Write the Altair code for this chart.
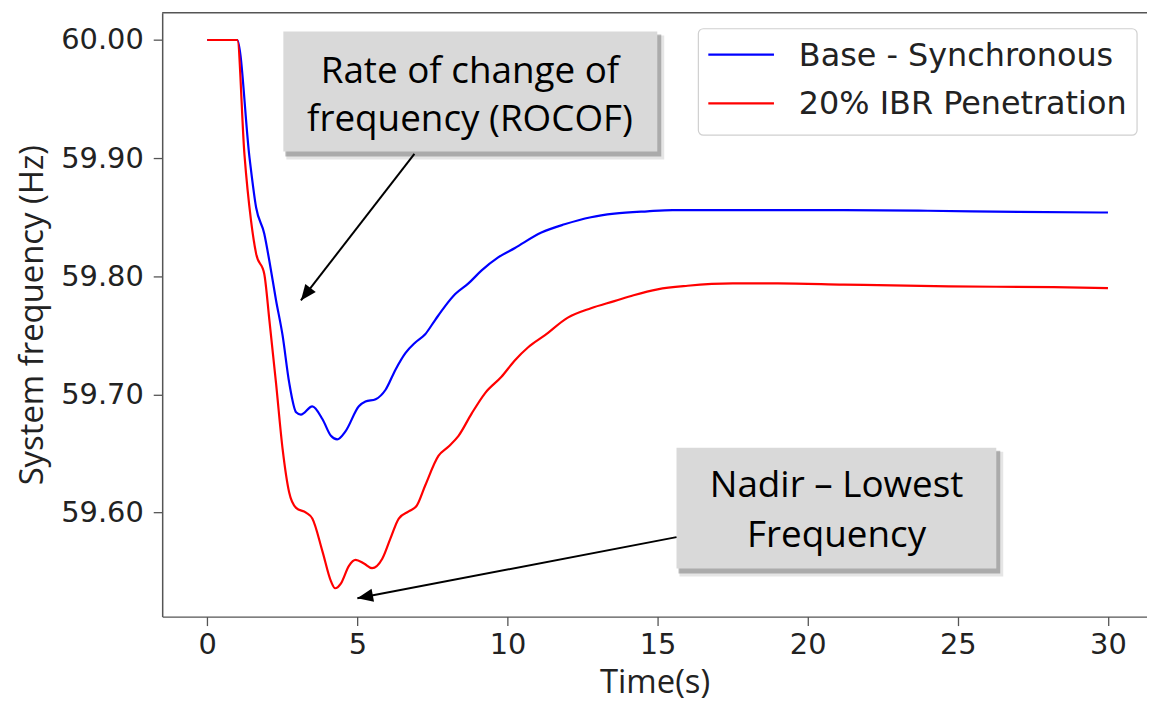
import altair as alt
import pandas as pd

# ---- data ----
series_names = ["Base - Synchronous", "20% IBR Penetration"]
series_colors = ["#0000ff", "#ff0000"]

t_base = [0, 1.0, 1.41, 1.63, 1.9, 2.07, 2.29, 2.51, 2.73, 2.96, 3.12, 3.5, 3.84, 4.12,
          4.33, 4.61, 5.05, 5.27, 5.61, 5.94, 6.27, 6.6, 6.93, 7.26, 7.59, 7.93, 8.26,
          8.7, 9.14, 9.69, 10.25, 11.13, 11.9, 12.78, 13.56, 14.66, 15.5, 17.7, 21.2,
          24.0, 27.0, 30.0]
f_base = [60.0, 60.0, 59.900, 59.858, 59.836, 59.813, 59.780, 59.750, 59.710, 59.685,
          59.683, 59.690, 59.679, 59.665, 59.662, 59.669, 59.690, 59.694, 59.696, 59.704,
          59.721, 59.735, 59.744, 59.751, 59.763, 59.775, 59.785, 59.794, 59.805, 59.816,
          59.824, 59.837, 59.844, 59.850, 59.853, 59.855, 59.856, 59.856, 59.856, 59.8555,
          59.8545, 59.854]

t_ibr = [0, 1.0, 1.24, 1.46, 1.63, 1.9, 2.07, 2.29, 2.51, 2.73, 2.96, 3.29, 3.5, 3.84,
         4.12, 4.26, 4.45, 4.72, 4.94, 5.22, 5.49, 5.83, 6.1, 6.38, 6.71, 6.98, 7.26,
         7.7, 8.04, 8.37, 8.81, 9.25, 9.8, 10.25, 10.69, 11.24, 12.01, 12.78, 13.56,
         14.2, 15.0, 16.0, 17.5, 19.0, 21.2, 24.7, 28.2, 30.0]
f_ibr = [60.0, 60.0, 59.903, 59.847, 59.819, 59.802, 59.763, 59.710, 59.654, 59.617,
         59.604, 59.600, 59.595, 59.567, 59.542, 59.536, 59.540, 59.555, 59.560, 59.557,
         59.553, 59.561, 59.578, 59.595, 59.601, 59.606, 59.623, 59.648, 59.656, 59.665,
         59.684, 59.701, 59.715, 59.729, 59.740, 59.750, 59.765, 59.773, 59.779, 59.784,
         59.789, 59.792, 59.794, 59.794, 59.793, 59.7915, 59.7908, 59.790]

x_ticks = [0, 5, 10, 15, 20, 25, 30]
y_ticks = [59.6, 59.7, 59.8, 59.9, 60.0]

df = pd.concat([
    pd.DataFrame({"t": t_base, "f": f_base, "series": series_names[0]}),
    pd.DataFrame({"t": t_ibr, "f": f_ibr, "series": series_names[1]}),
], ignore_index=True)

W, H = 990, 607
XDOM = [-1.5, 31.3]
YDOM = [59.512, 60.023]

xs = alt.Scale(domain=XDOM, nice=False, zero=False)
ys = alt.Scale(domain=YDOM, nice=False, zero=False)
cs = alt.Scale(domain=series_names, range=series_colors)

lines = alt.Chart(df).mark_line(strokeWidth=2.2, interpolate="monotone").encode(
    x=alt.X("t:Q", scale=xs,
            axis=alt.Axis(values=x_ticks, title="Time(s)", titleY=76, titleBaseline="alphabetic",
                          labelPadding=5)),
    y=alt.Y("f:Q", scale=ys,
            axis=alt.Axis(values=y_ticks, format=".2f", title="System frequency (Hz)",
                          titleX=-130, titleBaseline="middle", titleAlign="center",
                          labelPadding=10)),
    color=alt.Color("series:N", scale=cs, legend=None),
)

# ---- legend (drawn in the upper right of the plot area) ----
leg_df = pd.DataFrame({"series": series_names})
legend_box = alt.Chart(pd.DataFrame({"a": [0]})).mark_rect(
    fill="white", fillOpacity=0.85, stroke="#d0d0d0", strokeWidth=1.2, cornerRadius=5).encode(
    x=alt.value(539), x2=alt.value(980), y=alt.value(16), y2=alt.value(123))
legend_layers = [legend_box]
for i, name in enumerate(series_names):
    ypix = 42 + 49 * i
    row = alt.Chart(leg_df[leg_df.series == name])
    legend_layers.append(row.mark_rule(strokeWidth=2.2).encode(
        x=alt.value(549), x2=alt.value(615), y=alt.value(ypix),
        color=alt.Color("series:N", scale=cs, legend=None)))
    legend_layers.append(row.mark_text(align="left", baseline="middle", font="DejaVu Sans",
                                       fontSize=32, color="#222222").encode(
        x=alt.value(640), y=alt.value(ypix + 1), text="series:N"))

# ---- annotations (data coordinates) ----
boxes = pd.DataFrame({
    "x": [2.535, 15.63], "x2": [14.99, 26.28],
    "y": [60.0071, 59.655], "y2": [59.9056, 59.5527],
})
texts = pd.DataFrame({
    "x": [8.75, 8.75, 20.96, 20.96],
    "y": [59.9636, 59.9233, 59.6132, 59.5712],
    "label": ["Rate of change of", "frequency (ROCOF)", "Nadir \u2013 Lowest", "Frequency"],
})
arrows = pd.DataFrame({
    "x": [6.90, 15.63], "y": [59.9037, 59.5793],
    "x2": [3.12, 5.00], "y2": [59.7796, 59.5275],
    "angle": [217.7, 259.1],
})

def box_layer(**mk):
    return alt.Chart(boxes).mark_rect(**mk).encode(
        x=alt.X("x:Q", scale=xs), x2="x2:Q",
        y=alt.Y("y:Q", scale=ys), y2="y2:Q")

shadow2 = box_layer(color="#000000", opacity=0.10, xOffset=3, x2Offset=7, yOffset=4, y2Offset=8)
shadow1 = box_layer(color="#000000", opacity=0.25, xOffset=2, x2Offset=4, yOffset=3, y2Offset=5)
rects = box_layer(color="#d9d9d9")

text_layer = alt.Chart(texts).mark_text(font="Open Sans", fontSize=37, color="#000000",
                                         baseline="alphabetic", align="center").encode(
    x=alt.X("x:Q", scale=xs), y=alt.Y("y:Q", scale=ys), text="label:N")

arrow_lines = alt.Chart(arrows).mark_rule(color="#000000", strokeWidth=2).encode(
    x=alt.X("x:Q", scale=xs), y=alt.Y("y:Q", scale=ys), x2="x2:Q", y2="y2:Q")

arrow_heads = alt.Chart(arrows).mark_point(
    shape="M0,0L-0.42,1L0.42,1Z", filled=True, color="#000000", opacity=1, size=1000,
    strokeWidth=0).encode(
    x=alt.X("x2:Q", scale=xs), y=alt.Y("y2:Q", scale=ys), angle=alt.Angle("angle:Q", scale=None))

# top border of the frame
top_border = alt.Chart(pd.DataFrame({"a": [0]})).mark_rule(color="#555555", strokeWidth=1.5).encode(
    x=alt.value(0), x2=alt.value(W + 5), y=alt.value(0))

chart = alt.layer(lines, shadow2, shadow1, rects, text_layer, arrow_lines, arrow_heads,
                  top_border, *legend_layers).properties(
    width=W, height=H,
    autosize=alt.AutoSizeParams(type="none"),
    padding={"left": 155, "top": 3, "right": 0, "bottom": 86},
).configure_view(stroke=None).configure_axis(
    grid=False, domainColor="#555555", domainWidth=1.5, tickColor="#555555",
    tickWidth=1.3, tickSize=9, labelFont="DejaVu Sans", labelFontSize=29,
    labelColor="#222222", titleFont="Open Sans", titleFontSize=33,
    titleColor="#222222", titleFontWeight="normal",
)

chart.save("out.html", embed_options={"renderer": "svg", "actions": False})
